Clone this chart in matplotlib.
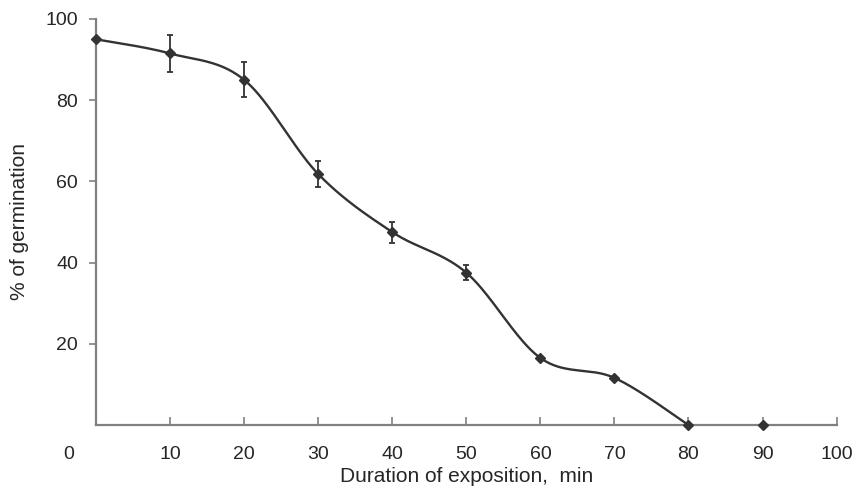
import numpy as np
import matplotlib
matplotlib.use("Agg")
import matplotlib.pyplot as plt
from matplotlib.transforms import ScaledTranslation

duration = [0, 10, 20, 30, 40, 50, 60, 70, 80, 90]
germination = [95, 91.5, 85, 61.8, 47.5, 37.5, 16.5, 11.6, 0, 0]
error = [0, 4.6, 4.3, 3.1, 2.6, 1.8, 0, 0, 0, 0]
x_ticks = [0, 10, 20, 30, 40, 50, 60, 70, 80, 90, 100]
y_ticks = [20, 40, 60, 80, 100]

plt.rcParams['font.family'] = ['Liberation Sans', 'DejaVu Sans']

def excel_smooth(xs, ys, n=40):
    xs = np.asarray(xs, float); ys = np.asarray(ys, float)
    pts = np.column_stack([xs, ys])
    out = []
    for i in range(len(pts) - 1):
        p0 = pts[i - 1] if i > 0 else pts[i]
        p1 = pts[i]; p2 = pts[i + 1]
        p3 = pts[i + 2] if i + 2 < len(pts) else pts[i + 1]
        c1 = p1 + (p2 - p0) / 6.0
        c2 = p2 - (p3 - p1) / 6.0
        t = np.linspace(0, 1, n)[:, None]
        seg = ((1 - t) ** 3) * p1 + 3 * ((1 - t) ** 2) * t * c1 + 3 * (1 - t) * t ** 2 * c2 + t ** 3 * p2
        out.append(seg if i == 0 else seg[1:])
    s = np.vstack(out)
    return s[:, 0], s[:, 1]

fig = plt.figure(figsize=(8.62, 4.93), dpi=100)
ax = fig.add_axes([0.1115, 0.138, 0.859, 0.8235])

axis_col = '#808080'
line_col = '#333333'
text_col = '#262626'

sx, sy = excel_smooth(duration[:9], germination[:9])
ax.plot(sx, sy, color=line_col, lw=1.7, zorder=3)
ax.errorbar(duration, germination, yerr=error, fmt='D', color=line_col,
            ms=5, ecolor=line_col, elinewidth=1.3, capsize=2.5, capthick=1.3,
            zorder=4, clip_on=False)

ax.set_xlim(0, 100)
ax.set_ylim(0, 100)
for s in ['top', 'right']:
    ax.spines[s].set_visible(False)
for s in ['left', 'bottom']:
    ax.spines[s].set_color(axis_col)
    ax.spines[s].set_linewidth(1.6)

ax.set_xticks(x_ticks)
ax.set_xticklabels([str(v) for v in x_ticks])
ax.set_yticks(y_ticks)
ax.set_yticklabels([str(v) for v in y_ticks])
ax.tick_params(axis='x', direction='in', length=6, width=1.2, color=axis_col,
               labelsize=14, pad=15, labelcolor=text_col)
ax.tick_params(axis='y', direction='out', length=5, width=1.2, color=axis_col,
               labelsize=14, pad=8, labelcolor=text_col)
# shift the "0" label to the left as in the reference
lbl0 = ax.get_xticklabels()[0]
lbl0.set_transform(lbl0.get_transform() + ScaledTranslation(-27 / 100, 0, fig.dpi_scale_trans))
ax.get_xticklines()[0].set_visible(False)

ax.set_xlabel('Duration of exposition,  min', fontsize=15, color=text_col, labelpad=3)
ax.set_ylabel('% of germination', fontsize=15, color=text_col, labelpad=12)

fig.savefig('out.png', dpi=100)
